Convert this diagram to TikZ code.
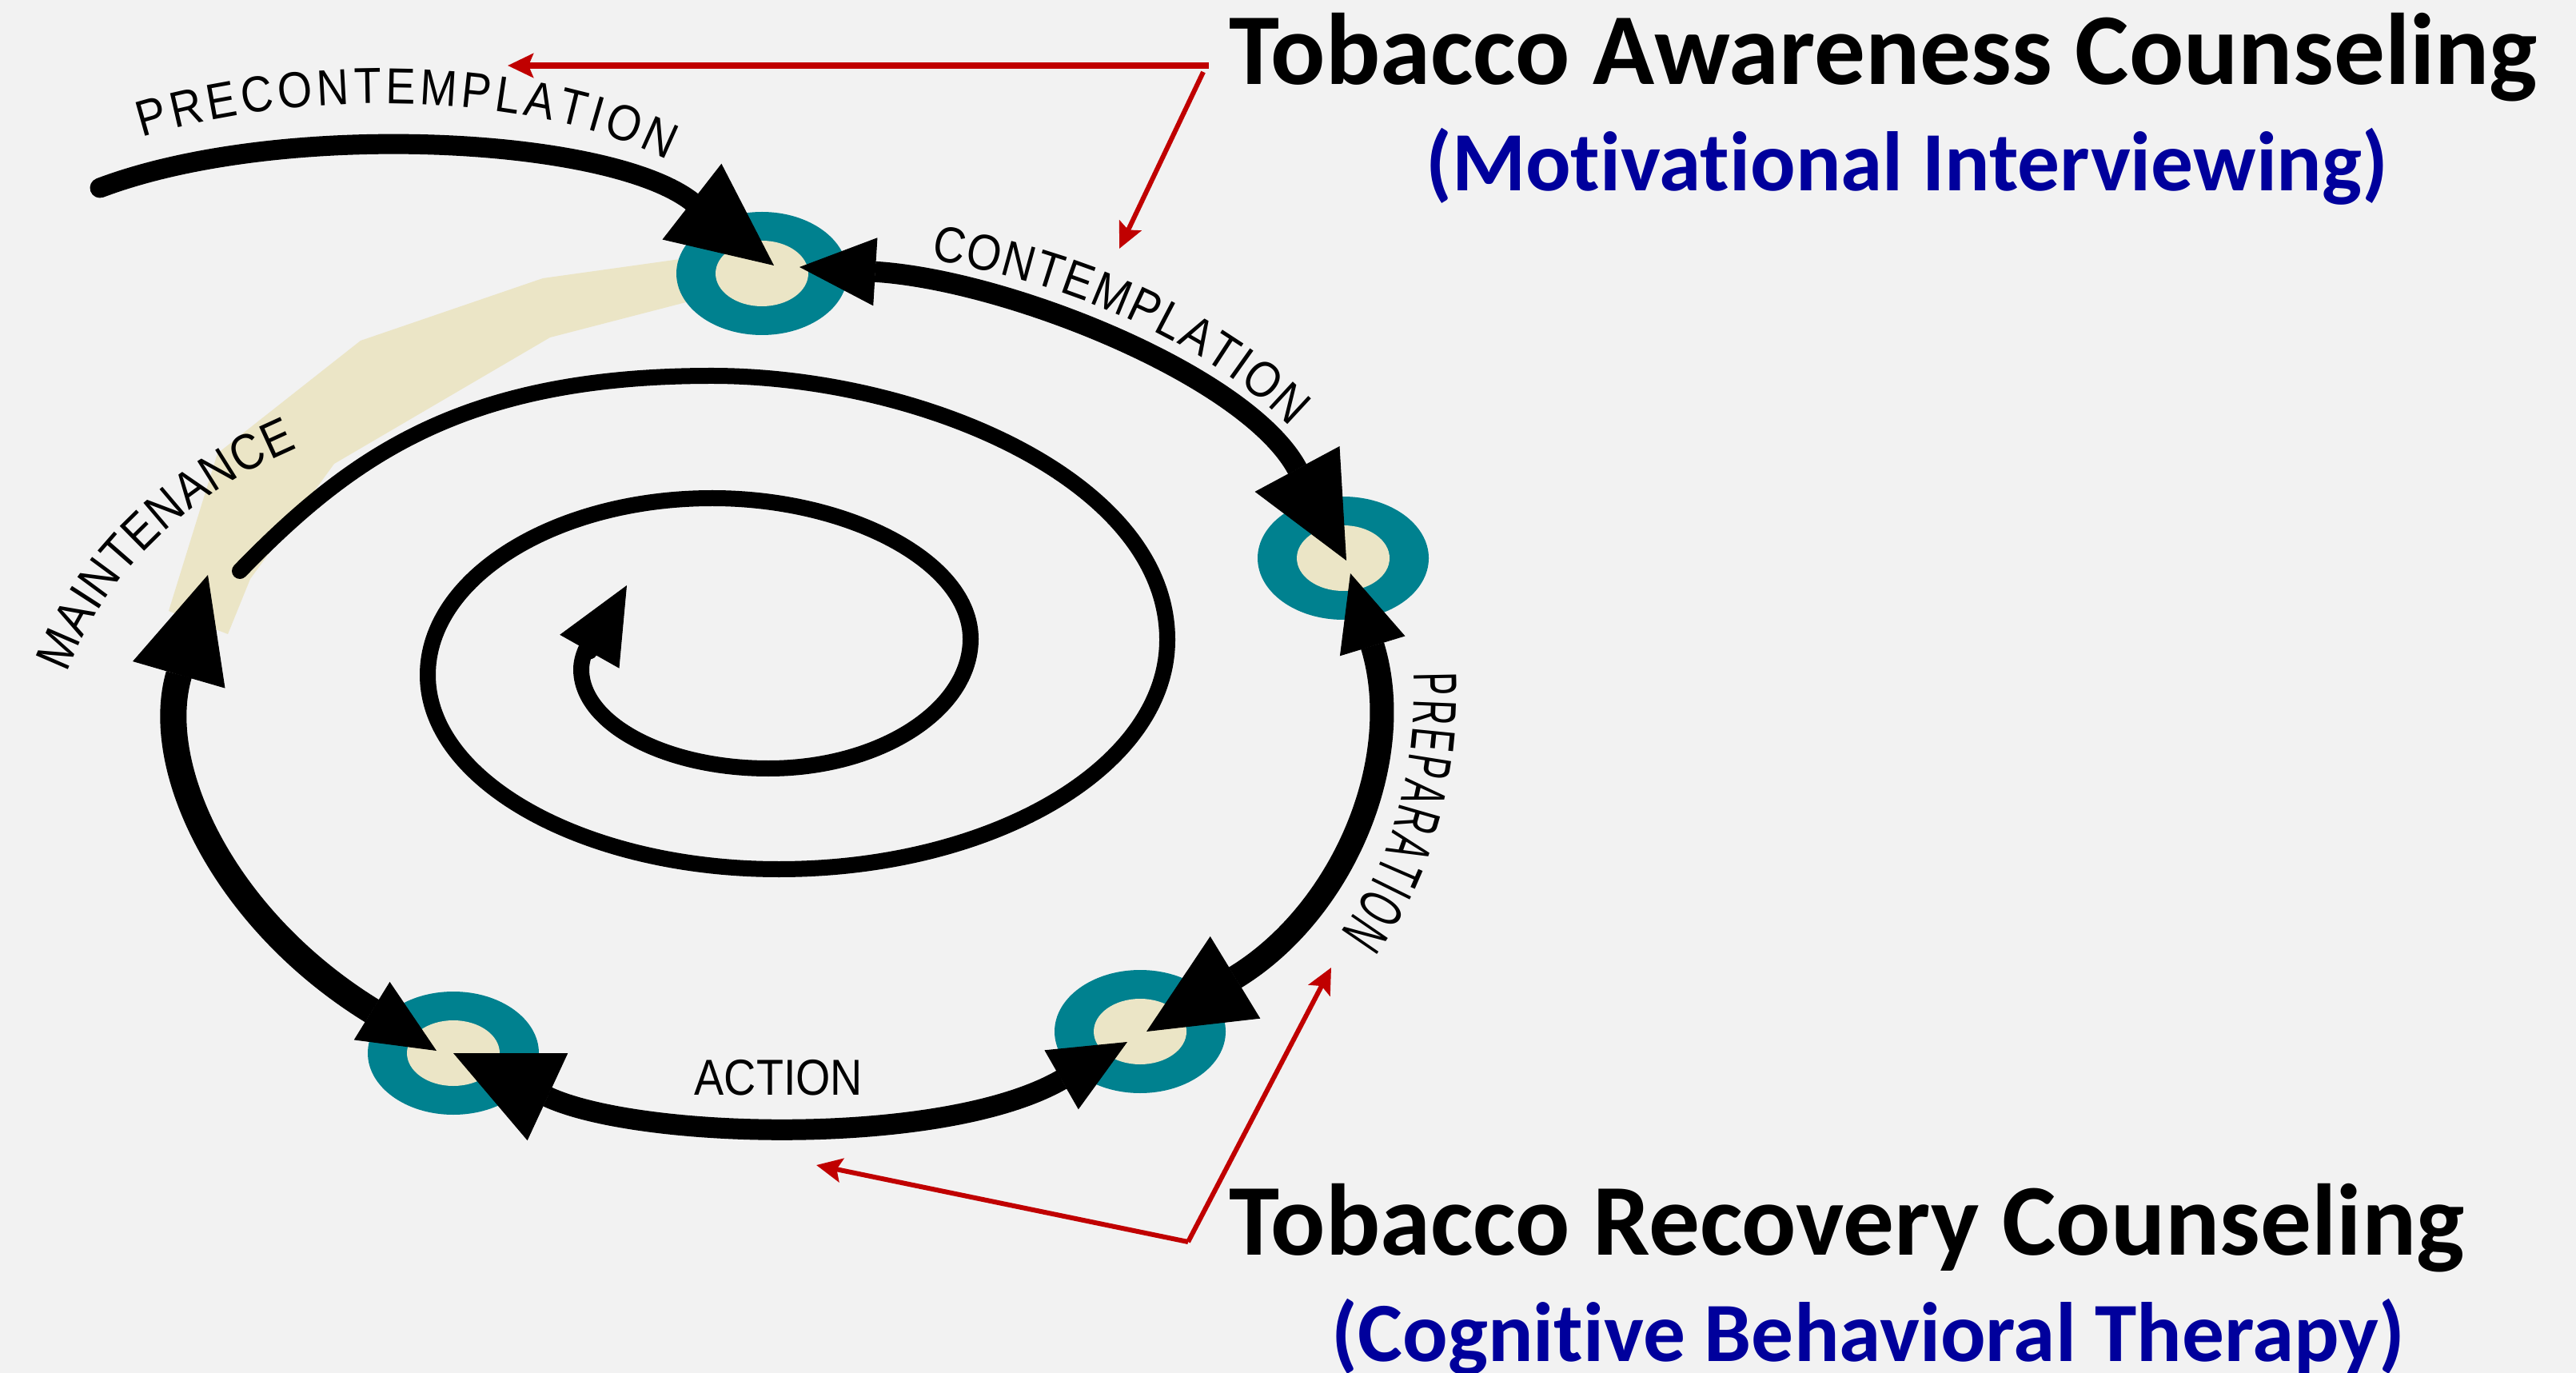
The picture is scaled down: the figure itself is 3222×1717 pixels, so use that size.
\documentclass[tikz,border=0pt]{standalone}
\usepackage{fontspec}
\usetikzlibrary{arrows.meta, shapes.geometric, decorations.text}

\newfontfamily\headfont[Ligatures=NoCommon]{Carlito}
\newfontfamily\stagefont[FakeStretch=0.88]{Liberation Sans}
\newfontfamily\prepfont[FakeStretch=0.56]{Liberation Sans}
\newcommand\stagesize{\fontsize{18}{22}\selectfont}

\definecolor{paper}{HTML}{F2F2F2}
\definecolor{ringteal}{HTML}{00818F}
\definecolor{cream}{HTML}{EBE5C6}
\definecolor{pointred}{HTML}{C00000}
\definecolor{subblue}{HTML}{00009C}

\begin{document}
\begin{tikzpicture}[
    x=0.1mm, y=-0.1mm,
    ring/.style={ellipse, fill=ringteal, minimum width=21.4mm, minimum height=15.4mm, inner sep=0pt,
        path picture={\fill[cream] (path picture bounding box.center) ellipse (5.8mm and 4.1mm);}},
    stage/.style={draw=black, line width=3mm},
    spiral/.style={draw=black, line width=2mm, line cap=round},
    pointer/.style={draw=pointred, line width=0.6mm, -{Stealth[length=3.2mm, width=3mm, inset=0.6mm]}},
    title/.style={font=\headfont\bfseries\fontsize{36.2}{40}\selectfont, inner sep=0pt},
    subtitle/.style={font=\headfont\bfseries\fontsize{30}{34}\selectfont, text=subblue, inner sep=0pt},
    bighead/.tip={Triangle[length=13mm, width=12mm, line width=0.1mm]},
    smallhead/.tip={Triangle[length=9.5mm, width=8.5mm, line width=0.1mm]}
]
    \useasboundingbox (0,0) rectangle (3222,1717);
    \fill[paper] (0,0) rectangle (3222,1717);

    % Band from maintenance back to the start
    \fill[cream] (858,323) -- (679,348) -- (451,426) -- (272,567) -- (211,764) -- (285,793)
        -- (313,724) -- (418,580) -- (688,422) -- (858,378) -- cycle;

    % Place nodes
    \node[ring] (topring) at (953,342) {};
    \node[ring] (rightring) at (1680,698) {};
    \node[ring] (br) at (1426,1290) {};
    \node[ring] (bl) at (567,1317) {};

    \node[title, anchor=base west] (aware) at (1537,106) {Tobacco Awareness Counseling};
    \node[subtitle, anchor=base] (motiv) at (2385,239) {(Motivational Interviewing)};
    \node[title, anchor=base west] (recovery) at (1537,1569) {Tobacco Recovery Counseling};
    \node[subtitle, anchor=base] (cbt) at (2337,1702) {(Cognitive Behavioral Therapy)};

    \node[font=\stagefont\stagesize, anchor=base, inner sep=0pt] (action) at (974,1369) {ACTION};

    \coordinate (precstart) at (125,235);
    \coordinate (maintop) at (260,719);
    \coordinate (spiralstart) at (300,714);
    \coordinate (spiralend) at (784,732);
    \coordinate (awarefork) at (1512,82);
    \coordinate (awareleft) at (635,82);
    \coordinate (awaredown) at (1400,311);
    \coordinate (recoveryfork) at (1486,1553);
    \coordinate (recoveryleft) at (1021,1457);
    \coordinate (recoveryup) at (1665,1210);

    % Add connections
    \draw[stage, line width=2.5mm, line cap=round, -bighead] (precstart) .. controls (350,150) and (760,170) .. ([shift={(15,-10)}]topring.center);
    \draw[stage, line width=2.6mm, smallhead-bighead] ([shift={(47,-8)}]topring.center) .. controls (1260,350) and (1560,470) .. ([shift={(4,3)}]rightring.center);
    \draw[stage, smallhead-bighead] ([shift={(9,19)}]rightring.center) .. controls (1760,950) and (1680,1140) .. ([shift={(8,0)}]br.center);
    \draw[stage, line width=2.6mm, bighead-smallhead] (bl.center) .. controls (800,1425) and (1180,1435) .. ([shift={(-16,13)}]br.center);
    \draw[stage, line width=3.3mm, smallhead-bighead] ([shift={(-21,-3)}]bl.center) .. controls (280,1150) and (190,960) .. (maintop);

    % Spiral in the middle
    \draw[spiral, -smallhead] (spiralstart) .. controls (440,570) and (580,470) .. (890,470)
        .. controls (1150,470) and (1460,600) .. (1460,800)
        .. controls (1460,960) and (1240,1087) .. (974,1087)
        .. controls (733,1087) and (535,978) .. (535,844)
        .. controls (535,722) and (695,623) .. (891,623)
        .. controls (1060,623) and (1214,702) .. (1214,799)
        .. controls (1214,888) and (1100,961) .. (961,961)
        .. controls (832,961) and (727,905) .. (727,837)
        .. controls (727,805) and (762,771) .. (spiralend);

    % Stage names
    \path[decorate, decoration={text along path, text align=fit to path,
        text={|\stagefont\stagesize|PRECONTEMPLATION}}]
        (178,172) .. controls (380,110) and (660,113) .. (835,200);
    \path[decorate, decoration={text along path, text align=fit to path,
        text={|\stagefont\stagesize|CONTEMPLATION}}]
        (1164,325) .. controls (1320,350) and (1500,420) .. (1614,534);
    \path[decorate, decoration={text along path, text align=fit to path,
        text={|\stagefont\stagesize|MAINTENANCE}}]
        (84,842) .. controls (128,722) and (230,620) .. (372,560);
    \path[decorate, decoration={text along path, text align=fit to path,
        text={|\prepfont\fontsize{22}{26}\selectfont|PREPARATION}}]
        (1768,842) .. controls (1773,950) and (1746,1072) .. (1676,1166);

    % Red pointers
    \draw[pointer, line width=0.8mm] (awarefork) -- (awareleft);
    \draw[pointer] ([shift={(-7,8)}]awarefork) -- (awaredown);
    \draw[pointer] (recoveryfork) -- (recoveryleft);
    \draw[pointer] (recoveryfork) -- (recoveryup);
\end{tikzpicture}
\end{document}
